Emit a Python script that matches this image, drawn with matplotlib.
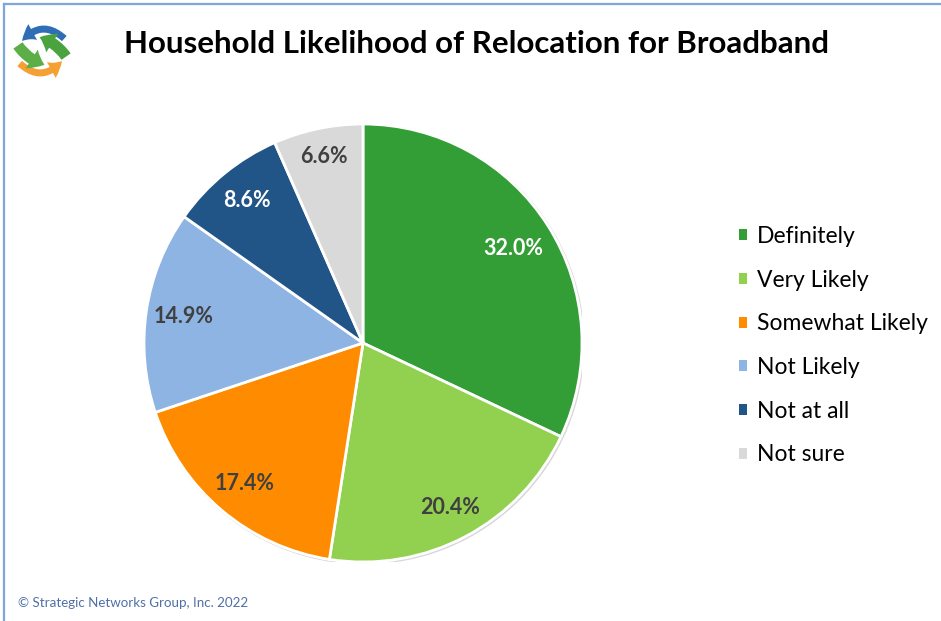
import numpy as np
import matplotlib.pyplot as plt
from matplotlib.patches import Patch, FancyArrowPatch, Circle
from matplotlib.lines import Line2D

categories = ['Definitely', 'Very Likely', 'Somewhat Likely', 'Not Likely', 'Not at all', 'Not sure']
shares = [32.0, 20.4, 17.4, 14.9, 8.6, 6.6]
slice_colors = ['#339e35', '#92d050', '#ff8c00', '#8eb4e3', '#215587', '#d9d9d9']
label_colors = ['white', '#404040', '#404040', '#404040', 'white', '#404040']
# how far out each percentage sits, as a fraction of the radius
label_radius = [0.81, 0.85, 0.84, 0.83, 0.84, 0.87]

W, H = 941, 621
fig = plt.figure(figsize=(W / 100, H / 100), dpi=100)
fig.patch.set_facecolor('white')


def px_rect(x0, y0, w, h):
    # pixel box (from top-left) -> figure fraction rect
    return [x0 / W, 1 - (y0 + h) / H, w / W, h / H]


# blue frame on top and left
fig.add_artist(Line2D([4 / W, 1], [1 - 4 / H, 1 - 4 / H], color='#7ea6dc', lw=1.6))
fig.add_artist(Line2D([4 / W, 4 / W], [0, 1 - 4 / H], color='#7ea6dc', lw=1.6))

# pie
cx, cy, r = 363, 343, 219
ax = fig.add_axes(px_rect(cx - r, cy - r, 2 * r, 2 * r))
ax.add_patch(Circle((0.005, -0.005), 1.003, color='#d8d8d8', zorder=0))
wedges, _ = ax.pie(shares, colors=slice_colors, startangle=90, counterclock=False, radius=1,
                   wedgeprops=dict(edgecolor='white', linewidth=2))
for w, val, c, d in zip(wedges, shares, label_colors, label_radius):
    mid = np.deg2rad((w.theta1 + w.theta2) / 2)
    ax.text(d * np.cos(mid), d * np.sin(mid), f'{val:.1f}%', ha='center', va='center',
            color=c, fontsize=15.5, fontweight='bold', family='Lato')
ax.set_xlim(-1, 1)
ax.set_ylim(-1, 1)
ax.set_aspect('equal')
ax.axis('off')

# legend
handles = [Patch(facecolor=c, edgecolor='none') for c in slice_colors]
fig.legend(handles, categories, loc='upper left', bbox_to_anchor=(739 / W, 1 - 226 / H),
           frameon=False, prop={'family': 'Lato', 'size': 16.5}, handlelength=0.36,
           handleheight=0.36, handletextpad=0.42, labelspacing=0.99, borderpad=0,
           borderaxespad=0)

fig.text(476 / W, 1 - 44 / H, 'Household Likelihood of Relocation for Broadband',
         ha='center', va='center', fontsize=22.5, fontweight='bold', family='Lato', color='black')

fig.text(18 / W, 1 - 603 / H, '\u00a9 Strategic Networks Group, Inc. 2022',
         ha='left', va='center', fontsize=9.6, family='Lato', color='#4f6fa8')

# logo: two curved arrows round two green arrows
lg = fig.add_axes(px_rect(10, 18, 64, 66))
lg.set_xlim(0, 1)
lg.set_ylim(0, 1)
lg.axis('off')
lg.add_patch(FancyArrowPatch((0.88, 0.66), (0.16, 0.62), connectionstyle='arc3,rad=0.55',
                             arrowstyle='simple,head_width=13,head_length=10,tail_width=5',
                             color='#2f6db5', lw=0))
lg.add_patch(FancyArrowPatch((0.12, 0.34), (0.84, 0.38), connectionstyle='arc3,rad=0.55',
                             arrowstyle='simple,head_width=13,head_length=10,tail_width=5',
                             color='#f5a033', lw=0))
lg.add_patch(FancyArrowPatch((0.1, 0.62), (0.58, 0.28), connectionstyle='arc3,rad=0.2',
                             arrowstyle='simple,head_width=16,head_length=10,tail_width=8',
                             color='#5cae47', lw=0))
lg.add_patch(FancyArrowPatch((0.9, 0.38), (0.42, 0.72), connectionstyle='arc3,rad=0.2',
                             arrowstyle='simple,head_width=16,head_length=10,tail_width=8',
                             color='#4ba340', lw=0))

fig.savefig('out.png', dpi=100)
